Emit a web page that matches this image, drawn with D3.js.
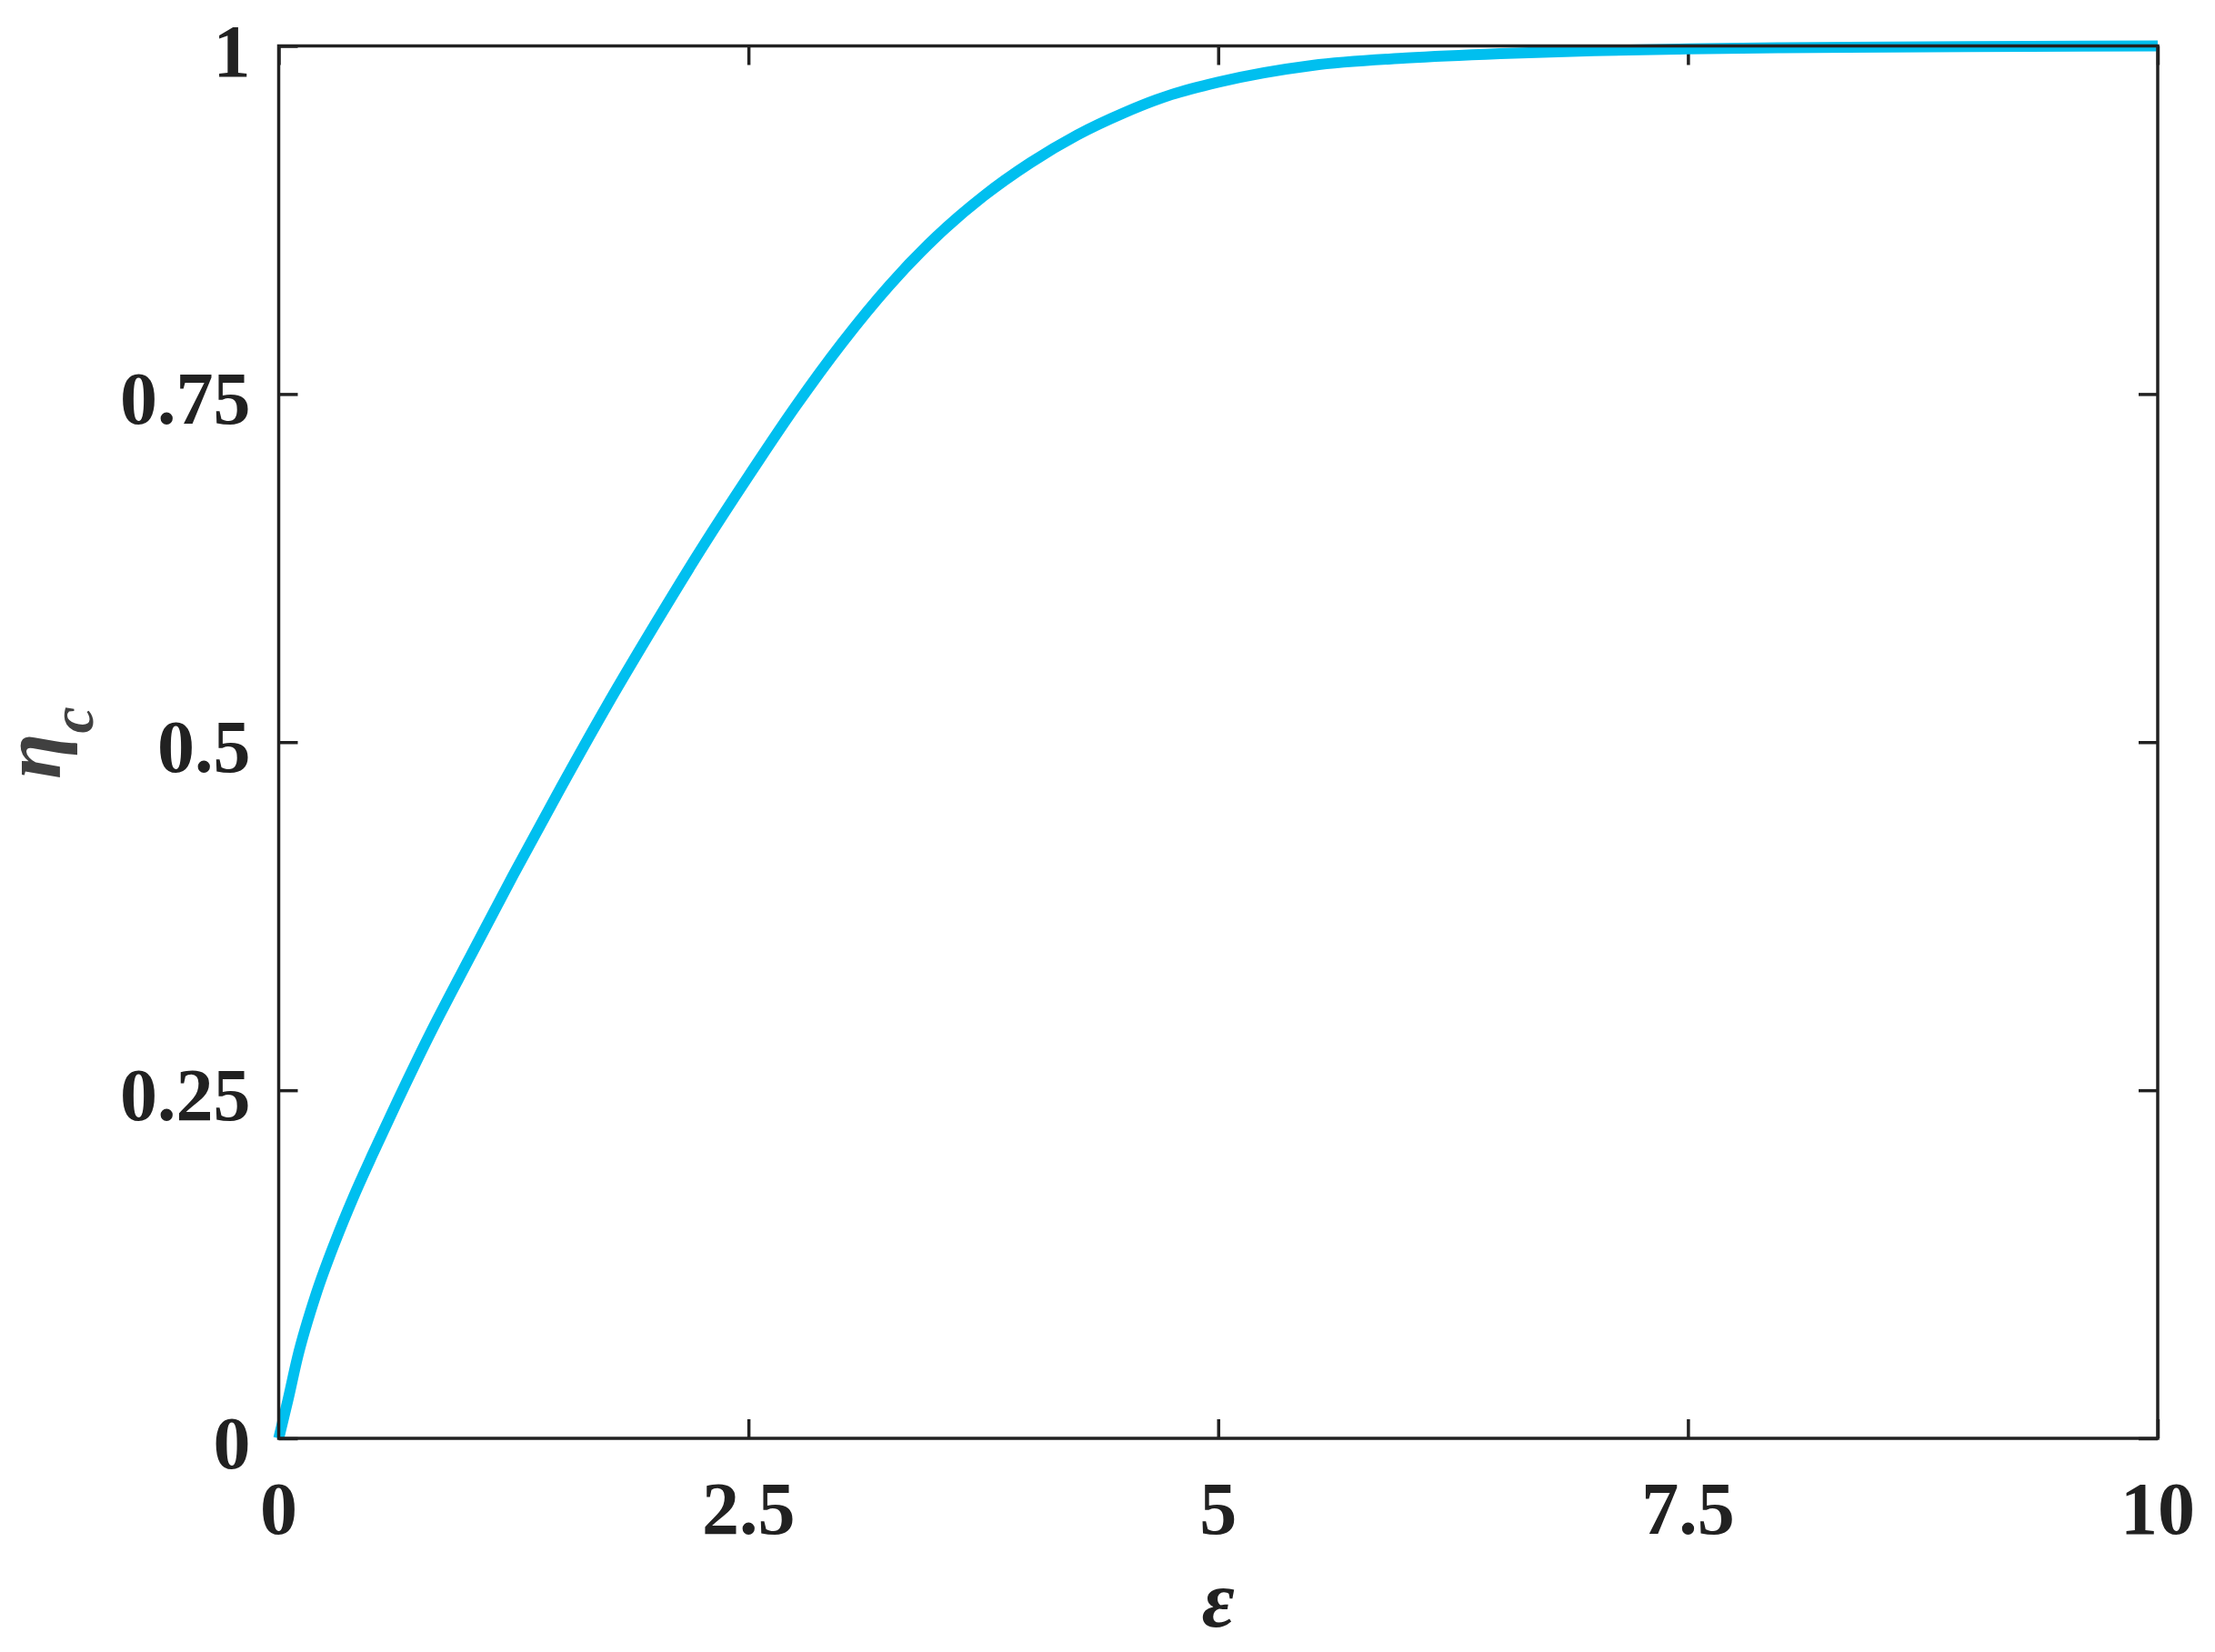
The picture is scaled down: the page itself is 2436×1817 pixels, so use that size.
<!DOCTYPE html>
<html lang="en">
<head>
  <meta charset="UTF-8">
  <title>eta_c vs epsilon</title>
  <script src="https://d3js.org/d3.v7.min.js"></script>
  <style>
    body { margin: 0; background: #fff; }
    .tick-label {
      font-family: "Liberation Serif", "Times New Roman", serif;
      font-weight: bold;
      font-size: 82px;
      fill: #212121;
    }
    .axis-title {
      font-family: "Liberation Serif", "Times New Roman", serif;
      font-weight: bold;
      font-style: italic;
    }
  </style>
</head>
<body>
  <svg id="chart"></svg>
  <script>
    // curve
    const epsilon = [0, 0.05, 0.1, 0.2, 0.3, 0.4, 0.5, 0.6, 0.8, 1.0,
      1.25, 1.5, 1.75, 2.0, 2.25, 2.5, 2.75, 3.0, 3.25, 3.5,
      3.75, 4.0, 4.25, 4.5, 4.75, 5.0, 5.5, 6.0, 6.5, 7.0, 7.5, 8, 9, 10];
    const etaC = [0, 0.028, 0.058, 0.104, 0.141, 0.174, 0.204, 0.233, 0.289, 0.341,
      0.405, 0.467, 0.527, 0.584, 0.639, 0.691, 0.741, 0.787, 0.828, 0.863,
      0.892, 0.916, 0.936, 0.952, 0.965, 0.974, 0.986, 0.9913, 0.9945, 0.9965, 0.9978, 0.9987, 0.9995, 1.0];

    const xTicks = [0, 2.5, 5, 7.5, 10];
    const xTickLabels = ["0", "2.5", "5", "7.5", "10"];
    const yTicks = [0, 0.25, 0.5, 0.75, 1];
    const yTickLabels = ["0", "0.25", "0.5", "0.75", "1"];

    const W = 2436, H = 1817;
    const margin = { top: 50.5, right: 63, bottom: 235, left: 306.5 };
    const width = W - margin.left - margin.right;
    const height = H - margin.top - margin.bottom;
    const tickLen = 21;
    const ink = "#212121";

    const svg = d3.select("#chart")
      .attr("width", W)
      .attr("height", H);

    const g = svg.append("g")
      .attr("transform", "translate(" + margin.left + "," + margin.top + ")");

    const x = d3.scaleLinear().domain([0, 10]).range([0, width]);
    const y = d3.scaleLinear().domain([0, 1]).range([height, 0]);

    // ticks on all four sides, pointing inward
    g.append("g")
      .attr("transform", "translate(0," + height + ")")
      .call(d3.axisBottom(x).tickValues(xTicks).tickSizeInner(-tickLen).tickSizeOuter(0).tickFormat(""));
    g.append("g")
      .call(d3.axisTop(x).tickValues(xTicks).tickSizeInner(-tickLen).tickSizeOuter(0).tickFormat(""));
    g.append("g")
      .call(d3.axisLeft(y).tickValues(yTicks).tickSizeInner(-tickLen).tickSizeOuter(0).tickFormat(""));
    g.append("g")
      .attr("transform", "translate(" + width + ",0)")
      .call(d3.axisRight(y).tickValues(yTicks).tickSizeInner(-tickLen).tickSizeOuter(0).tickFormat(""));

    g.selectAll(".domain").remove();
    g.selectAll(".tick line").attr("stroke", ink).attr("stroke-width", 3.5);

    // tick labels
    g.selectAll(".xlab")
      .data(xTicks)
      .enter().append("text")
      .attr("class", "tick-label")
      .attr("x", d => x(d))
      .attr("y", height + 105)
      .attr("text-anchor", "middle")
      .text((d, i) => xTickLabels[i]);

    g.selectAll(".ylab")
      .data(yTicks)
      .enter().append("text")
      .attr("class", "tick-label")
      .attr("x", -31)
      .attr("y", d => y(d) + 33)
      .attr("text-anchor", "end")
      .text((d, i) => yTickLabels[i]);

    // curve
    const pts = epsilon.map((e, i) => [e, etaC[i]]);
    g.append("path")
      .datum(pts)
      .attr("fill", "none")
      .attr("stroke", "#00BFEF")
      .attr("stroke-width", 12)
      .attr("d", d3.line()
        .x(d => x(d[0]))
        .y(d => y(d[1]))
        .curve(d3.curveMonotoneX));

    // frame
    g.append("rect")
      .attr("width", width)
      .attr("height", height)
      .attr("fill", "none")
      .attr("stroke", ink)
      .attr("stroke-width", 3.5);

    // axis titles
    svg.append("text")
      .attr("class", "axis-title")
      .attr("x", margin.left + width / 2)
      .attr("y", 1789)
      .attr("text-anchor", "middle")
      .attr("font-size", 88)
      .attr("fill", ink)
      .text("ε");

    const yt = svg.append("text")
      .attr("class", "axis-title")
      .attr("transform", "translate(66," + 817 + ") rotate(-90)")
      .attr("text-anchor", "middle")
      .attr("fill", "#404040");
    yt.append("tspan").attr("font-size", 92).text("η");
    yt.append("tspan").attr("font-size", 66).attr("dy", 36).text("c");
  </script>
</body>
</html>
